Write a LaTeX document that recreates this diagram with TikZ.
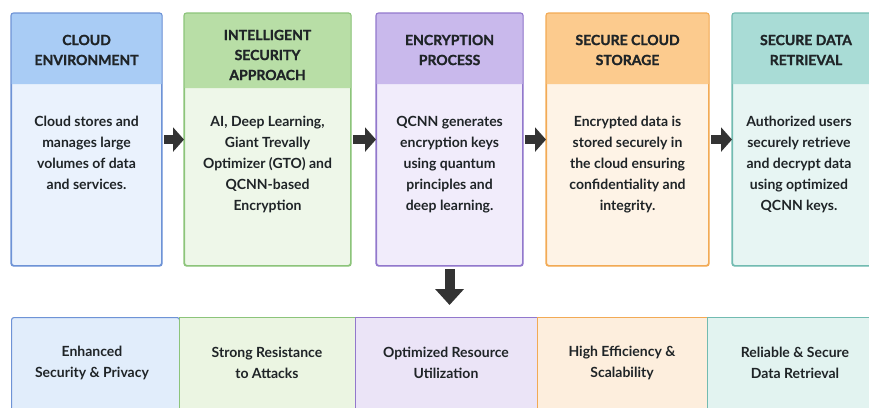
\documentclass[tikz,border=0pt]{standalone}
\usepackage{fontspec}
\setmainfont{Lato}
\newfontfamily\headfont[FakeBold=1.3]{Lato}
\usetikzlibrary{arrows.meta,calc}

% stage palettes: header fill, border, body fill, lower panel fill
\definecolor{hdA}{HTML}{A9CCF5}\definecolor{bdA}{HTML}{6E93D6}\definecolor{bgA}{HTML}{EAF2FD}\definecolor{ftA}{HTML}{E1EDFB}
\definecolor{hdB}{HTML}{B8DEA6}\definecolor{bdB}{HTML}{8CC47A}\definecolor{bgB}{HTML}{EEF7E9}\definecolor{ftB}{HTML}{EBF5E2}
\definecolor{hdC}{HTML}{C9B9EC}\definecolor{bdC}{HTML}{9278CC}\definecolor{bgC}{HTML}{F1ECFB}\definecolor{ftC}{HTML}{EBE4F7}
\definecolor{hdD}{HTML}{FCCB8E}\definecolor{bdD}{HTML}{F2AA55}\definecolor{bgD}{HTML}{FEF3E6}\definecolor{ftD}{HTML}{FDEEDD}
\definecolor{hdE}{HTML}{A9DCD6}\definecolor{bdE}{HTML}{72BBB1}\definecolor{bgE}{HTML}{E7F5F3}\definecolor{ftE}{HTML}{E2F3F0}
\definecolor{ink}{HTML}{1F2427}
\definecolor{arrowink}{HTML}{333333}

\tikzset{
  stagebox/.style={line width=1.1pt, rounded corners=2.5pt, inner sep=0pt, anchor=north west, minimum height=252pt},
  headtext/.style={align=center, font=\headfont\bfseries\fontsize{14}{20}\selectfont, text=ink},
  bodytext/.style={align=center, anchor=north, font=\bfseries\fontsize{14}{21}\selectfont, text=ink},
  panel/.style={line width=1.1pt, inner sep=0pt, anchor=north west, minimum height=100pt},
  paneltext/.style={align=center, font=\bfseries\fontsize{14}{21}\selectfont, text=ink},
  flow/.style={draw=arrowink, line width=9pt, -{Triangle[width=24pt,length=11pt]}},
  drop/.style={draw=arrowink, line width=10pt, -{Triangle[width=28pt,length=16pt]}},
}

% #1 name, #2 left, #3 width, #4 header bottom, #5 palette letter
\newcommand\stage[5]{%
  \node[stagebox, draw=bd#5, fill=bg#5, minimum width=#3pt] (#1) at (#2,13) {};
  \fill[hd#5] (#1.west |- 0,#4) [rounded corners=2.5pt]-- (#1.north west) -- (#1.north east) [sharp corners]-- (#1.east |- 0,#4) -- cycle;
  \draw[bd#5, line width=1.1pt, rounded corners=2.5pt] (#1.south west) rectangle (#1.north east);
}

\begin{document}
\begin{tikzpicture}[x=1pt,y=-1pt]
\useasboundingbox (0,0) rectangle (869,407);
\clip (0,0) rectangle (869,407);

\stage{s1}{11}{150}{84}{A}
\stage{s2}{184}{166}{88}{B}
\stage{s3}{376}{146}{84}{C}
\stage{s4}{546}{162}{84}{D}
\stage{s5}{732}{160}{84}{E}

% headings
\node[headtext] (h1) at ($(s1.north)+(0,37)$) {CLOUD\\ENVIRONMENT};
\node[headtext] (h2) at ($(s2.north)+(0,42)$) {INTELLIGENT\\SECURITY\\APPROACH};
\node[headtext] (h3) at ($(s3.north)+(0,37)$) {ENCRYPTION\\PROCESS};
\node[headtext] (h4) at ($(s4.north)+(0,37)$) {SECURE CLOUD\\STORAGE};
\node[headtext] (h5) at (806,50) {SECURE DATA\\RETRIEVAL};

% descriptions
\node[bodytext] (t1) at ($(s1.north)+(0,100)$) {Cloud stores and\\manages large\\volumes of data\\and services.};
\node[bodytext] (t2) at ($(s2.north)+(0,100)$) {AI, Deep Learning,\\Giant Trevally\\Optimizer (GTO) and\\QCNN-based\\Encryption};
\node[bodytext] (t3) at ($(s3.north)+(0,100)$) {QCNN generates\\encryption keys\\using quantum\\principles and\\deep learning.};
\node[bodytext] (t4) at ($(s4.north)+(0,100)$) {Encrypted data is\\stored securely in\\the cloud ensuring\\confidentiality and\\integrity.};
\node[bodytext] (t5) at (799,113) {Authorized users\\securely retrieve\\and decrypt data\\using optimized\\QCNN keys.};

% flow between stages
\draw[flow, shorten <=2pt] (s1.east) -- (s2.west);
\draw[flow, shorten <=2pt] (s2.east) -- (s3.west);
\draw[flow, shorten <=2pt] (s3.east) -- (s4.west);
\draw[flow, shorten <=2pt] (s4.east) -- (s5.west);

% outcome panels
\node[panel, draw=bdA, fill=ftA, minimum width=168pt, rounded corners=2.5pt] (r1) at (11,317) {};
\node[panel, draw=bdB, fill=ftB, minimum width=176pt] (r2) at (179,317) {};
\node[panel, draw=bdC, fill=ftC, minimum width=182pt] (r3) at (355,317) {};
\node[panel, draw=bdD, fill=ftD, minimum width=170pt] (r4) at (537,317) {};
\node[panel, draw=bdE, fill=ftE, minimum width=180pt] (r5) at (707,317) {};

\node[paneltext] (p1) at (92,363) {Enhanced\\Security \& Privacy};
\node[paneltext] (p2) at (267,363) {Strong Resistance\\to Attacks};
\node[paneltext] (p3) at (446,363) {Optimized Resource\\Utilization};
\node[paneltext] (p4) at (622,363) {High Efficiency \&\\Scalability};
\node[paneltext] (p5) at (795,363) {Reliable \& Secure\\Data Retrieval};

% result arrow
\coordinate (dropend) at ($(s3.south |- r3.north)+(0,-12)$);
\draw[drop] ($(s3.south)+(0,3)$) -- (dropend);
\end{tikzpicture}
\end{document}
